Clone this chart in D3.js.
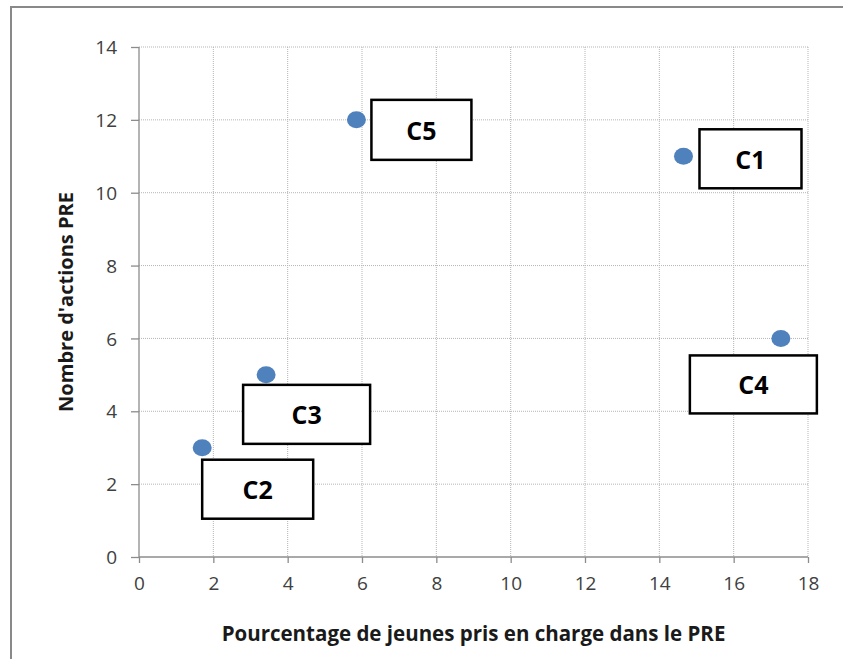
<!DOCTYPE html>
<html>
<head>
<meta charset="utf-8">
<script src="https://cdn.jsdelivr.net/npm/d3@7"></script>
<style>
  body { margin: 0; background: #fff; }
  svg text { font-family: "Open Sans", "Liberation Sans", sans-serif; }
</style>
</head>
<body>
<script>
// data
const labels = ["C1", "C2", "C3", "C4", "C5"];
const pctJeunes = [14.65, 1.7, 3.42, 17.27, 5.85];
const nbActions = [11, 3, 5, 6, 12];
const xTicks = [0, 2, 4, 6, 8, 10, 12, 14, 16, 18];
const yTicks = [0, 2, 4, 6, 8, 10, 12, 14];

// label box placement relative to the point (layout only)
const boxOffsets = [
  {dx: 16, dy: -27, w: 102, h: 59},
  {dx: 0, dy: 12, w: 111, h: 59},
  {dx: -23, dy: 10, w: 127, h: 59},
  {dx: -91, dy: 17, w: 127, h: 58},
  {dx: 15, dy: -20, w: 100, h: 60}
];

const width = 843, height = 659;
const plot = {left: 139, right: 808, top: 47, bottom: 557};

const svg = d3.select("body").append("svg")
  .attr("width", width)
  .attr("height", height);

// outer frame (cropped on right/bottom)
svg.append("path")
  .attr("d", `M11,${height + 5} L11,7 L${width + 5},7`)
  .attr("fill", "none")
  .attr("stroke", "#898989")
  .attr("stroke-width", 2);

const x = d3.scaleLinear().domain([0, 18]).range([plot.left, plot.right]);
const y = d3.scaleLinear().domain([0, 14]).range([plot.bottom, plot.top]);

// gridlines
svg.append("g").selectAll("line.vg")
  .data(xTicks.slice(1))
  .enter().append("line")
  .attr("x1", d => x(d)).attr("x2", d => x(d))
  .attr("y1", plot.top).attr("y2", plot.bottom)
  .attr("stroke", "#b5b5b5")
  .attr("stroke-dasharray", "1,1");

svg.append("g").selectAll("line.hg")
  .data(yTicks.slice(1))
  .enter().append("line")
  .attr("x1", plot.left).attr("x2", plot.right)
  .attr("y1", d => y(d)).attr("y2", d => y(d))
  .attr("stroke", "#b5b5b5")
  .attr("stroke-dasharray", "1,1");

// axes
const xAxis = svg.append("g")
  .attr("transform", `translate(0,${plot.bottom})`)
  .call(d3.axisBottom(x).tickValues(xTicks).tickSize(6).tickPadding(14));

const yAxis = svg.append("g")
  .attr("transform", `translate(${plot.left},0)`)
  .call(d3.axisLeft(y).tickValues(yTicks).tickSize(8).tickPadding(14));

[xAxis, yAxis].forEach(a => {
  a.select(".domain").attr("stroke", "#8c8c8c").attr("stroke-width", 1.3);
  a.selectAll(".tick line").attr("stroke", "#8c8c8c").attr("stroke-width", 1.3);
  a.selectAll(".tick text")
    .attr("fill", "#404040")
    .style("font-size", "19px")
    .style("font-family", '"Open Sans", sans-serif');
});
yAxis.select(".domain").attr("d", `M-0,${plot.bottom}V${plot.top}`);
xAxis.select(".domain").attr("d", `M${plot.left},0H${plot.right}`);
yAxis.selectAll(".tick text").attr("dy", "0.35em");
xAxis.selectAll(".tick text").attr("dy", "0.7em");

// axis titles
svg.append("text")
  .attr("x", (plot.left + plot.right) / 2)
  .attr("y", 641)
  .attr("text-anchor", "middle")
  .style("font-size", "20.5px")
  .style("font-weight", "bold")
  .attr("fill", "#1a1a1a")
  .text("Pourcentage de jeunes pris en charge dans le PRE");

svg.append("text")
  .attr("transform", `translate(73,${(plot.top + plot.bottom) / 2}) rotate(-90)`)
  .attr("text-anchor", "middle")
  .style("font-size", "20px")
  .style("font-weight", "bold")
  .attr("fill", "#1a1a1a")
  .text("Nombre d'actions PRE");

// points
const pts = labels.map((l, i) => ({label: l, x: pctJeunes[i], y: nbActions[i], off: boxOffsets[i]}));

svg.append("g").selectAll("ellipse")
  .data(pts)
  .enter().append("ellipse")
  .attr("cx", d => x(d.x))
  .attr("cy", d => y(d.y))
  .attr("rx", 9.5)
  .attr("ry", 8.5)
  .attr("fill", "#4f81bd");

// label boxes
const boxes = svg.append("g").selectAll("g")
  .data(pts)
  .enter().append("g")
  .attr("transform", d => `translate(${x(d.x) + d.off.dx},${y(d.y) + d.off.dy})`);

boxes.append("rect")
  .attr("width", d => d.off.w)
  .attr("height", d => d.off.h)
  .attr("fill", "#fff")
  .attr("stroke", "#000")
  .attr("stroke-width", 2.5);

boxes.append("text")
  .attr("x", d => d.off.w / 2)
  .attr("y", d => d.off.h / 2 + 10)
  .attr("text-anchor", "middle")
  .style("font-size", "25px")
  .style("font-weight", "bold")
  .attr("fill", "#000")
  .text(d => d.label);
</script>
</body>
</html>
